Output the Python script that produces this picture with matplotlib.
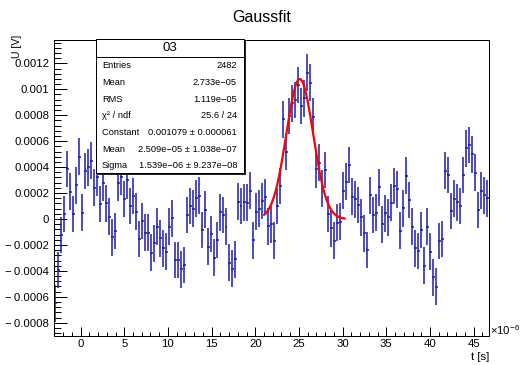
import matplotlib
matplotlib.use("Agg")
import matplotlib.pyplot as plt
import numpy as np
from matplotlib.ticker import FixedLocator, FixedFormatter, MultipleLocator
from matplotlib.patches import Rectangle
from matplotlib.lines import Line2D

plt.rcParams['font.family'] = ['Liberation Sans', 'DejaVu Sans']
plt.rcParams['mathtext.fontset'] = 'custom'
plt.rcParams['mathtext.rm'] = 'Liberation Sans'
plt.rcParams['mathtext.it'] = 'Liberation Sans:italic'

# ---------------- data (x in microseconds, y in volts) ----------------
x_range = [-3.1, 46.7]
bin_values = [
    -0.00065, -0.000393, -0.000123, 0.0000385, 0.000385, 0.00021, 0.0000385, 0.00026, 0.00048, 0.00005,
    0.00037, 0.0004, 0.00045, 0.00024, 0.00032, 0.000116, 0.00028, 0.00012, 0.000018, -0.00014,
    -0.000093, 0.00028, 0.000326, 0.000154, 0.0003, 0.0001, 0.000177, 0.000056, -0.000154, -0.000015,
    -0.000105, -0.000105, -0.00026, -0.000188, -0.000059, -0.000149, -0.000226, -0.000252, -0.000059, 0.000005,
    -0.000316, -0.000316, -0.000388, -0.000355, 0.000031, 0.0001, 0.00008, 0.00016, 0.00018, -0.000085,
    0.000072, -0.000213, -0.000116, -0.0003, -0.000162, 0.000052, 0.000031, -0.00006, -0.000337, -0.000383,
    -0.00031, 0.000134, 0.0001, 0.00013, 0.000126, 0.000218, -0.000165, 0.000057, 0.00008, 0.000139,
    0.00017, -0.000055, -0.00004, -0.000167, 0.0001, 0.000254, 0.000768, 0.000519, 0.000794, 0.000892,
    0.000917, 0.001033, 0.000871, 0.00093, 0.001128, 0.00105, 0.000789, 0.000383, 0.000434, 0.000236,
    0.000378, 0.000039, -0.000072, -0.000167, -0.000028, -0.00002, 0.000218, 0.000288, 0.000416, 0.000172,
    0.000152, 0.000108, 0.000013, -0.000111, -0.000239, 0.000182, 0.000031, 0.000049, 0.000244, -0.000041,
    0.000044, 0.000013, 0.000126, 0.000254, 0.00023, -0.00009, 0.000082, 0.000334, 0.000146, -0.000059,
    -0.000226, -0.000247, -0.000085, -0.00036, -0.000059, -0.000252, -0.00045, -0.000522, -0.00017, -0.000154,
    0.000373, 0.000339, 0.000062, 0.000157, 0.000128, 0.0001, 0.000339, 0.000545, 0.00057, 0.000498,
    0.000357, 0.000069, 0.000218, 0.000182, 0.000159,
]
bin_error = 0.000142

fit_constant = 0.001079
fit_mean = 25.09      # microseconds
fit_sigma = 1.539     # microseconds
fit_range = [21.0, 30.25]

xtick_values = [0, 5, 10, 15, 20, 25, 30, 35, 40, 45]
xtick_labels = ["0", "5", "10", "15", "20", "25", "30", "35", "40", "45"]
ytick_values = [-0.0008, -0.0006, -0.0004, -0.0002, 0.0, 0.0002, 0.0004, 0.0006, 0.0008, 0.001, 0.0012]
ytick_labels = ["\u2212\u20090.0008", "\u2212\u20090.0006", "\u2212\u20090.0004", "\u2212\u20090.0002", "0",
                "0.0002", "0.0004", "0.0006", "0.0008", "0.001", "0.0012"]

stats_title = "03"
stats_names = ["Entries", "Mean", "RMS", "\u03c7\u00b2 / ndf", "Constant ", "Mean", "Sigma"]
stats_texts = ["2482", "2.733e\u221205", "1.119e\u221205", "25.6 / 24",
               "0.001079 \u00b1 0.000061", "2.509e\u221205 \u00b1 1.038e\u221207",
               "1.539e\u221206 \u00b1 9.237e\u221208"]

# ---------------- figure ----------------
W, H = 523, 365
fig = plt.figure(figsize=(W / 100, H / 100), dpi=100)

def fx(px):
    return px / W

def fy(py):
    return 1 - py / H

PT = 0.72  # points per pixel at dpi 100

L, R, T, B = 53.5, 488.5, 40, 336
ax = fig.add_axes([fx(L), fy(B), fx(R) - fx(L), fy(T) - fy(B)])

edges = np.linspace(x_range[0], x_range[1], len(bin_values) + 1)
centers = 0.5 * (edges[:-1] + edges[1:])
half_w = 0.5 * (edges[1] - edges[0])

ax.errorbar(centers, bin_values, yerr=bin_error, xerr=half_w, fmt='none',
            ecolor='#1c1caa', elinewidth=1.1, capsize=0)

t = np.linspace(fit_range[0], fit_range[1], 300)
g = fit_constant * np.exp(-0.5 * ((t - fit_mean) / fit_sigma) ** 2)
ax.plot(t, g, color='#ff0000', lw=1.6, solid_capstyle='round')

ax.set_xlim(x_range)
ax.set_ylim(-0.000902, 0.00138)

ax.xaxis.set_major_locator(FixedLocator(xtick_values))
ax.xaxis.set_major_formatter(FixedFormatter(xtick_labels))
ax.xaxis.set_minor_locator(MultipleLocator(1))
ax.yaxis.set_major_locator(FixedLocator(ytick_values))
ax.yaxis.set_major_formatter(FixedFormatter(ytick_labels))
ax.yaxis.set_minor_locator(MultipleLocator(0.00004))

ax.tick_params(axis='x', which='major', direction='in', length=9 * PT, width=1 * PT, labelsize=8.2,
               pad=2.5, top=False, bottom=True)
ax.tick_params(axis='x', which='minor', direction='in', length=4.5 * PT, width=1 * PT, top=False)
ax.tick_params(axis='y', which='major', direction='in', length=13 * PT, width=1 * PT, labelsize=8.2,
               pad=3, right=False, left=True)
ax.tick_params(axis='y', which='minor', direction='in', length=6.5 * PT, width=1 * PT, right=False)
for s in ax.spines.values():
    s.set_linewidth(1.0 * PT)
    s.set_color('black')

# titles / labels
fig.text(fx(262), fy(17), "Gaussfit", ha='center', va='center', fontsize=11.5)
fig.text(fx(489), fy(357), "t [s]", ha='right', va='center', fontsize=8.2)
fig.text(fx(490), fy(330), r"$\times10^{-6}$", ha='left', va='center', fontsize=8.2)
fig.text(fx(17), fy(35), "U [V]", ha='center', va='top', rotation=90, fontsize=7.6)

# stats box
bx0, bx1, by0, by1 = 96, 244, 39, 173
fig.patches.append(Rectangle((fx(bx0) + 1.5 / W, fy(by1) - 1.5 / H), fx(bx1) - fx(bx0), fy(by0) - fy(by1),
                             transform=fig.transFigure, facecolor='#222222', edgecolor='none', zorder=5))
fig.patches.append(Rectangle((fx(bx0), fy(by1)), fx(bx1) - fx(bx0), fy(by0) - fy(by1),
                             transform=fig.transFigure, facecolor='white', edgecolor='black',
                             lw=1.0 * PT, zorder=6))
fig.lines.append(Line2D([fx(bx0), fx(bx1)], [fy(57), fy(57)], transform=fig.transFigure,
                        color='black', lw=1.0 * PT, zorder=7))
fig.text(fx(170), fy(48), stats_title, ha='center', va='center', fontsize=9.5, zorder=8)
row_y = [66, 82.5, 99, 115.5, 132, 149, 165.5]
for name, val, yy in zip(stats_names, stats_texts, row_y):
    fig.text(fx(102), fy(yy), name, ha='left', va='center', fontsize=6.7, zorder=8)
    fig.text(fx(237), fy(yy), val, ha='right', va='center', fontsize=6.7, zorder=8)

fig.savefig("out.png", dpi=100)
